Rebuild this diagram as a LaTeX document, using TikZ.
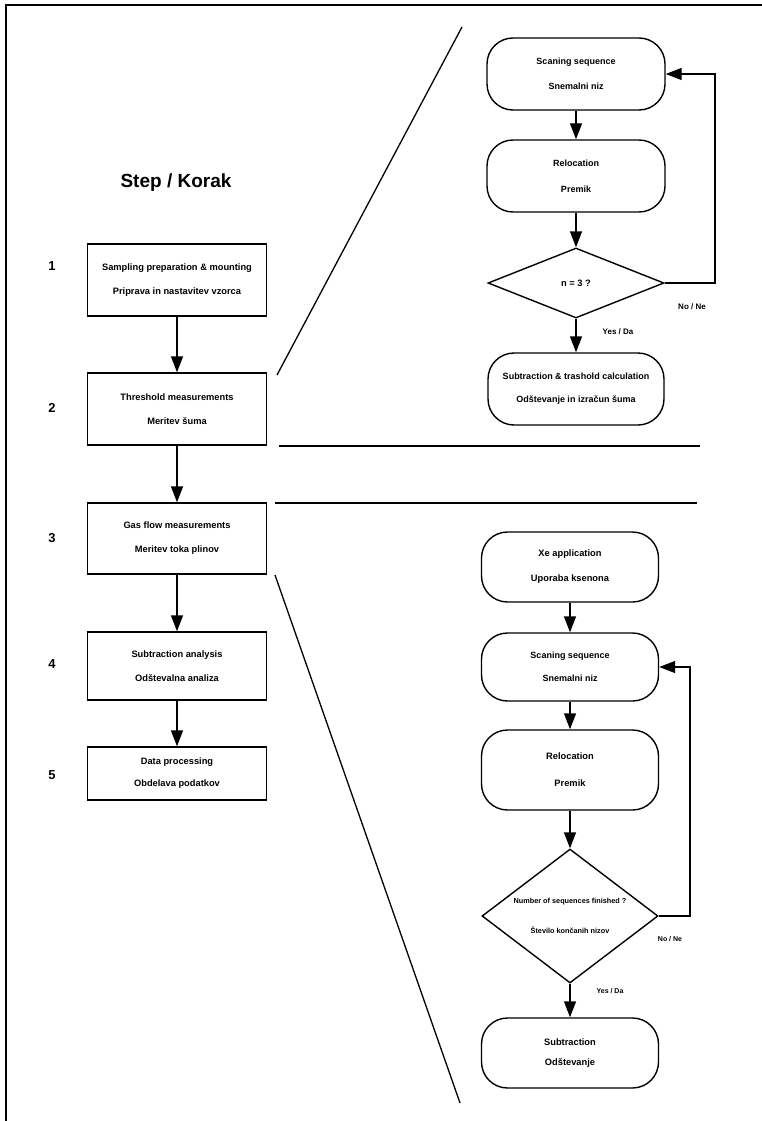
\documentclass[tikz,border=0pt]{standalone}
\usepackage{fontspec}
\setmainfont{Liberation Sans}
\usetikzlibrary{shapes.geometric,arrows.meta}
\begin{document}
\begin{tikzpicture}[x=1pt,y=-1pt,
  every node/.style={inner sep=0pt},
  box/.style={draw, line width=1.4pt, minimum width=179pt, minimum height=72pt, align=center, font=\bfseries\fontsize{9.3}{24}\selectfont},
  rbox/.style={box, rounded corners=26pt},
  dia/.style={draw, diamond, line width=1.4pt, align=center, font=\bfseries\fontsize{9.3}{24}\selectfont},
  arr/.style={line width=1.4pt, -{Triangle[width=12pt,length=16pt]}},
  sep/.style={line width=1.3pt},
  num/.style={font=\bfseries\fontsize{13}{15}\selectfont},
  lbl/.style={font=\bfseries\fontsize{8}{10}\selectfont},
  slbl/.style={font=\bfseries\fontsize{7}{9}\selectfont}]
\useasboundingbox (0,0) rectangle (762,1121);
% frame
\draw[line width=1.5pt] (762,5) -- (6,5) -- (6,1121);

% title and step numbers
\node[font=\bfseries\fontsize{19}{22}\selectfont] (title) at (176,183) {Step / Korak};
\node[num] (n1) at (52,266) {1};
\node[num] (n2) at (52,408) {2};
\node[num] (n3) at (52,538) {3};
\node[num] (n4) at (52,664) {4};
\node[num] (n5) at (52,775) {5};

% left column
\node[box] (b1) at (177,280) {Sampling preparation \& mounting\\Priprava in nastavitev vzorca};
\node[box] (b2) at (177,409) {Threshold measurements\\Meritev šuma};
\node[box, minimum height=71pt] (b3) at (177,538.5) {Gas flow measurements\\Meritev toka plinov};
\node[box, minimum height=68pt] (b4) at (177,666) {Subtraction analysis\\Odštevalna analiza};
\node[box, minimum height=53pt, font=\bfseries\fontsize{9.3}{22}\selectfont] (b5) at (177,773.5) {Data processing\\Obdelava podatkov};
\draw[arr] (b1) -- (b2);
\draw[arr] (b2) -- (b3);
\draw[arr] (b3) -- (b4);
\draw[arr] (b4) -- (b5);

% separator lines
\draw[sep] (462,27) -- (277,375);
\draw[sep] (279,446) -- (700,446);
\draw[sep] (275,503) -- (697,503);
\draw[sep] (275,575) -- (460,1103);

% top-right chart
\node[rbox, minimum width=178pt, font=\bfseries\fontsize{9}{25}\selectfont] (s1) at (576,74) {Scaning sequence\\Snemalni niz};
\node[rbox, minimum width=178pt, font=\bfseries\fontsize{9}{26}\selectfont] (r1) at (576,176) {Relocation\\Premik};
\node[dia, minimum width=176pt, minimum height=70pt, shape aspect=2.5] (d1) at (576,283) {n = 3 ?};
\node[rbox, minimum width=176pt, font=\bfseries\fontsize{9}{23}\selectfont] (e1) at (576,389) {Subtraction \& trashold calculation\\Odštevanje in izračun šuma};
\coordinate (k1) at (715,283);
\draw[arr] (s1) -- (r1);
\draw[arr] (r1) -- (d1);
\draw[arr] (d1) -- (e1);
\draw[arr] (d1.east) -- (k1) |- (s1.east);
\node[lbl] (no1) at (692,307) {No / Ne};
\node[lbl] (yes1) at (618,332) {Yes / Da};

% bottom-right chart
\node[rbox, minimum width=177pt, minimum height=70pt, font=\bfseries\fontsize{9.3}{25}\selectfont] (x1) at (570,567) {Xe application\\Uporaba ksenona};
\node[rbox, minimum width=177pt, minimum height=68pt, font=\bfseries\fontsize{9}{23}\selectfont] (s2) at (570,667) {Scaning sequence\\Snemalni niz};
\node[rbox, minimum width=177pt, minimum height=80pt, font=\bfseries\fontsize{9.3}{27}\selectfont] (r2) at (570,770) {Relocation\\Premik};
\node[dia, minimum width=176pt, minimum height=134pt, shape aspect=1.31, font=\bfseries\fontsize{7.3}{30}\selectfont] (d2) at (570,916) {Number of sequences finished ?\\Število končanih nizov};
\node[rbox, minimum width=177pt, minimum height=70pt, font=\bfseries\fontsize{9.3}{20}\selectfont] (e2) at (570,1053) {Subtraction\\Odštevanje};
\coordinate (k2) at (690,916);
\draw[arr] (x1) -- (s2);
\draw[arr] (s2) -- (r2);
\draw[arr] (r2) -- (d2);
\draw[arr] (d2) -- (e2);
\draw[arr] (d2.east) -- (k2) |- (s2.east);
\node[slbl] (no2) at (670,939) {No / Ne};
\node[slbl] (yes2) at (610,991) {Yes / Da};
\end{tikzpicture}
\end{document}
